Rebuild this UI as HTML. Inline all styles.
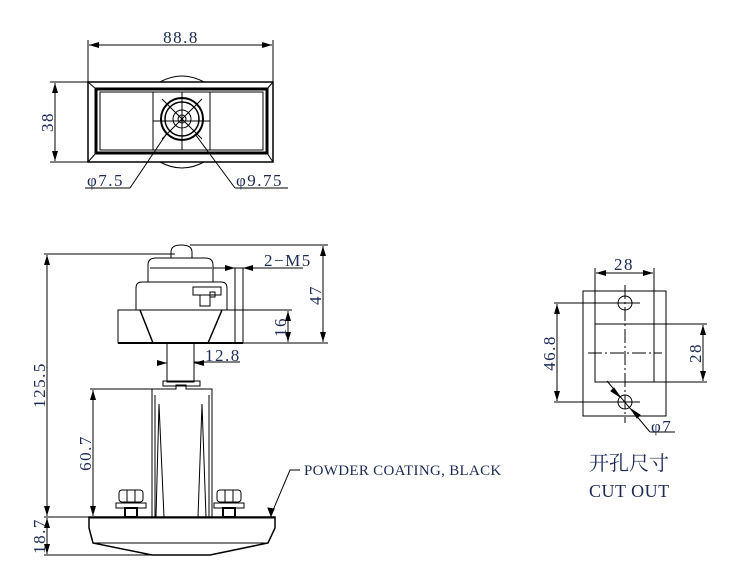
<!DOCTYPE html>
<html><head><meta charset="utf-8"><style>
html,body{margin:0;padding:0;background:#fff;}
svg{display:block;}
text{font-family:"Liberation Serif","Noto Serif CJK SC",serif;fill:#1c2a55;font-size:17px;letter-spacing:1.5px;}
</style></head><body>
<svg width="730" height="572" viewBox="0 0 730 572" xmlns="http://www.w3.org/2000/svg">
<defs>
<marker id="a" viewBox="0 0 10 6" refX="10" refY="3" markerWidth="10" markerHeight="6" orient="auto-start-reverse" markerUnits="userSpaceOnUse"><path d="M0,0 L10,3 L0,6 z" fill="#000"/></marker>
</defs>
<g stroke="#000" fill="none" stroke-width="1">
<line x1="88" y1="40" x2="88" y2="84"/><line x1="273" y1="40" x2="273" y2="84"/>
<line x1="89" y1="45" x2="272" y2="45" marker-start="url(#a)" marker-end="url(#a)"/>
<line x1="50" y1="82" x2="90" y2="82"/><line x1="50" y1="162" x2="90" y2="162"/>
<line x1="55" y1="83" x2="55" y2="161" marker-start="url(#a)" marker-end="url(#a)"/>
<path d="M160,82 Q182,70 204,82" /><path d="M160,162 Q182,174 204,162"/>
<rect x="88" y="82" width="185" height="80" stroke-width="1.5"/>
<rect x="96" y="89" width="171" height="64" stroke-width="3"/>
<rect x="100" y="92" width="163" height="58"/>
<line x1="88" y1="82" x2="96" y2="89"/><line x1="273" y1="82" x2="267" y2="89"/>
<line x1="88" y1="162" x2="96" y2="153"/><line x1="273" y1="162" x2="267" y2="153"/>
<rect x="153" y="92" width="57" height="58"/>
<line x1="182" y1="92" x2="182" y2="150"/><line x1="153" y1="121" x2="210" y2="121"/>
<circle cx="182" cy="119" r="21" stroke-width="2"/>
<circle cx="182" cy="119" r="17" stroke-width="1.5"/>
<circle cx="182" cy="119" r="9"/><circle cx="182" cy="119" r="4"/>
<line x1="162" y1="99" x2="202" y2="139"/><line x1="202" y1="99" x2="162" y2="139"/>
<line x1="167" y1="133" x2="130" y2="188"/><line x1="85" y1="188" x2="130" y2="188"/>
<line x1="195" y1="134" x2="235" y2="188"/><line x1="235" y1="188" x2="288" y2="188"/>
<line x1="44" y1="254" x2="175" y2="254"/>
<line x1="190" y1="245" x2="328" y2="245"/>
<line x1="47" y1="255" x2="47" y2="516" marker-start="url(#a)" marker-end="url(#a)"/>
<line x1="44" y1="517" x2="90" y2="517"/><line x1="44" y1="555" x2="152" y2="555"/>
<line x1="47" y1="518" x2="47" y2="554" marker-start="url(#a)" marker-end="url(#a)"/>
<line x1="90" y1="389" x2="152" y2="389"/>
<line x1="93" y1="390" x2="93" y2="516" marker-start="url(#a)" marker-end="url(#a)"/>
<line x1="323" y1="246" x2="323" y2="342" marker-start="url(#a)" marker-end="url(#a)"/>
<line x1="243" y1="343" x2="328" y2="343"/>
<line x1="243" y1="310" x2="292" y2="310"/>
<line x1="288" y1="311" x2="288" y2="342" marker-start="url(#a)" marker-end="url(#a)"/>
<line x1="213" y1="268" x2="303" y2="268"/>
<line x1="235" y1="268" x2="235" y2="343"/><line x1="243" y1="268" x2="243" y2="343"/>
<line x1="225" y1="268" x2="235" y2="268" marker-end="url(#a)"/><line x1="253" y1="268" x2="243" y2="268" marker-end="url(#a)"/>
<line x1="194" y1="362" x2="240" y2="362"/>
<line x1="157" y1="363" x2="167" y2="363" marker-end="url(#a)"/><line x1="204" y1="363" x2="194" y2="363" marker-end="url(#a)"/>
<path d="M171,258 L171,252 Q171,245 181,245 Q192,245 192,252 L192,258" />
<path d="M148,282 L148,265 Q148,258 156,258 L205,258 Q213,258 213,265 L213,282"/>
<line x1="150" y1="268" x2="212" y2="268"/>
<path d="M136,310 L136,288 Q136,282 142,282 L221,282 Q227,282 227,288 L227,310 Z"/>
<rect x="193" y="287" width="28" height="8"/><rect x="200" y="295" width="10" height="11"/><rect x="210" y="292" width="5" height="5"/>
<rect x="118" y="310" width="125" height="33"/>
<line x1="118" y1="343" x2="243" y2="343" stroke-width="2"/>
<line x1="140" y1="310" x2="153" y2="343" stroke-width="1.5"/><line x1="222" y1="310" x2="208" y2="343" stroke-width="1.5"/>
<rect x="167" y="343" width="27" height="39"/>
<rect x="163" y="381" width="37" height="5"/>
<path d="M152,517 L152,389 L176,389 L176,385 L186,385 L186,389 L212,389 L212,517"/>
<path d="M159,404 L156,517 M159,404 L164,517 M202,404 L198,517 M202,404 L206,517"/>
<path d="M155,395 L155,517 M209,395 L209,517"/>
<g id="nut"><rect x="119" y="490" width="24" height="12" rx="3"/><line x1="127" y1="490" x2="127" y2="502"/><line x1="135" y1="490" x2="135" y2="502"/><rect x="116" y="503" width="30" height="5"/><rect x="125" y="508" width="12" height="9" stroke-width="2"/></g>
<use href="#nut" x="98"/>
<path d="M89,517 L275,517 L275,528 L268,543 L210,555 L152,555 L93,543 L89,528 Z" stroke-width="1.5"/>
<line x1="93" y1="543" x2="268" y2="543"/>
<line x1="89" y1="518" x2="275" y2="518"/>
<path d="M300,470 L290,470 L271,515" /><path d="M271,516 L268,508 L274,509 Z" fill="#000"/>
<rect x="583" y="291" width="83" height="125"/>
<rect x="595" y="324" width="59" height="58"/>
<line x1="595" y1="268" x2="595" y2="324"/><line x1="654" y1="268" x2="654" y2="324"/>
<line x1="596" y1="273" x2="653" y2="273" marker-start="url(#a)" marker-end="url(#a)"/>
<circle cx="625" cy="303" r="7"/><circle cx="625" cy="402" r="7"/>
<line x1="554" y1="303" x2="640" y2="303"/><line x1="554" y1="402" x2="640" y2="402"/>
<line x1="557" y1="304" x2="557" y2="401" marker-start="url(#a)" marker-end="url(#a)"/>
<line x1="654" y1="324" x2="707" y2="324"/><line x1="654" y1="382" x2="707" y2="382"/>
<line x1="703" y1="325" x2="703" y2="381" marker-start="url(#a)" marker-end="url(#a)"/>
<line x1="625" y1="285" x2="625" y2="423" stroke-dasharray="14,3,2,3"/>
<line x1="588" y1="353" x2="662" y2="353" stroke-dasharray="14,3,2,3"/>
<line x1="607" y1="381" x2="650" y2="432"/><line x1="650" y1="432" x2="675" y2="432"/>
<path d="M620,397 L614,388 L611,391 Z M631,409 L637,418 L640,415 Z" fill="#000"/>
</g>
<text x="181" y="43" text-anchor="middle">88.8</text>
<text transform="translate(53,122) rotate(-90)" text-anchor="middle">38</text>
<text x="87" y="186">φ7.5</text>
<text x="236" y="186">φ9.75</text>
<text x="264" y="266">2−M5</text>
<text x="205" y="361">12.8</text>
<text transform="translate(321,295) rotate(-90)" text-anchor="middle">47</text>
<text transform="translate(286,327) rotate(-90)" text-anchor="middle">16</text>
<text transform="translate(45,385) rotate(-90)" text-anchor="middle">125.5</text>
<text transform="translate(45,536) rotate(-90)" text-anchor="middle">18.7</text>
<text transform="translate(91,453) rotate(-90)" text-anchor="middle">60.7</text>
<text x="304" y="475" style="font-size:15px;letter-spacing:0.3px">POWDER COATING, BLACK</text>
<text x="624" y="270" text-anchor="middle">28</text>
<text transform="translate(555,353) rotate(-90)" text-anchor="middle">46.8</text>
<text transform="translate(701,353) rotate(-90)" text-anchor="middle">28</text>
<text x="651" y="432">φ7</text>
<text x="589" y="470" style="font-size:20px;letter-spacing:0">开孔尺寸</text>
<text x="589" y="497" style="font-size:18px;letter-spacing:0.5px">CUT OUT</text>
</svg>
</body></html>
